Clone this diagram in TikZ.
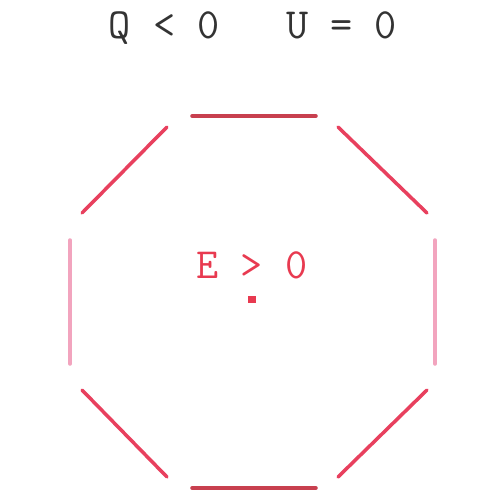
\documentclass[tikz,border=0pt]{standalone}
\usetikzlibrary{positioning}

\definecolor{lawink}{HTML}{333333}
\definecolor{edgered}{HTML}{C8404F}
\definecolor{diagred}{HTML}{E8405E}
\definecolor{sidepink}{HTML}{F2A4BE}
\definecolor{textred}{HTML}{E83A50}

\begin{document}
\begin{tikzpicture}[x=0.02cm, y=-0.02cm,
  law/.style={font=\ttfamily\fontsize{24.5}{27}\selectfont, inner sep=0pt},
  rim/.style={line width=2pt, line cap=round}]
  \useasboundingbox (0,0) rectangle (487,491);
  % first law line
  \node[law, text=lawink] (law) at (253,28) {Q < 0\ \ \ U = 0};
  % octagon corners
  \coordinate (t1) at (192,116); \coordinate (t2) at (316,116);
  \coordinate (b1) at (192,488); \coordinate (b2) at (316,488);
  \coordinate (ul1) at (167,127); \coordinate (ul2) at (82,213);
  \coordinate (ur1) at (338,127); \coordinate (ur2) at (427,213);
  \coordinate (ll1) at (82,390);  \coordinate (ll2) at (167,477);
  \coordinate (lr1) at (427,390); \coordinate (lr2) at (338,477);
  \coordinate (l1) at (70,240);   \coordinate (l2) at (70,364);
  \coordinate (r1) at (435,240);  \coordinate (r2) at (435,364);
  \draw[rim, edgered] (t1) -- (t2);
  \draw[rim, edgered] (b1) -- (b2);
  \draw[rim, diagred] (ul1) -- (ul2);
  \draw[rim, diagred] (ur1) -- (ur2);
  \draw[rim, diagred] (ll1) -- (ll2);
  \draw[rim, diagred] (lr1) -- (lr2);
  \draw[rim, sidepink] (l1) -- (l2);
  \draw[rim, sidepink] (r1) -- (r2);
  % energy inside
  \node[law, text=textred] (energy) at (252,265) {E > 0};
  \node[fill=textred, minimum width=0.18cm, minimum height=0.14cm, inner sep=0pt,
        below=0.34cm of energy.south] (mark) {};
\end{tikzpicture}
\end{document}
